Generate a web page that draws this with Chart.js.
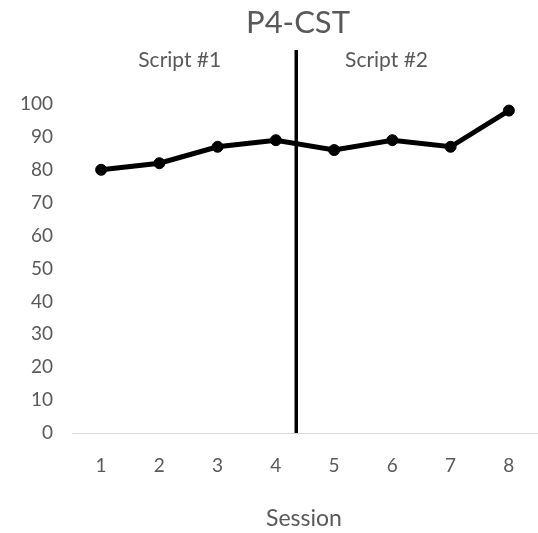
<!DOCTYPE html>
<html>
<head>
<meta charset="utf-8">
<script src="https://cdn.jsdelivr.net/npm/chart.js@4/dist/chart.umd.min.js"></script>
<style>
html,body{margin:0;padding:0;background:#fff;}
#wrap{width:538px;height:533px;position:relative;}
</style>
</head>
<body>
<div id="wrap"><canvas id="c" width="538" height="533"></canvas></div>
<script>
const chartTitle = "P4-CST";
const sessions = ["1","2","3","4","5","6","7","8"];
const scores = [80, 82, 87, 89, 86, 89, 87, 98];
const phaseLabels = ["Script #1", "Script #2"];
const phaseDividerIndex = 3.35; // between session 4 and 5
const yTicks = [0,10,20,30,40,50,60,70,80,90,100];
const xAxisTitle = "Session";

const FONT = "Lato, 'Open Sans', sans-serif";
const GRAY = "#595959";

const overlay = {
  id: 'overlay',
  afterDatasetsDraw(chart) {
    const {ctx, chartArea, scales} = chart;
    const x = scales.x, y = scales.y;
    const xd = x.getPixelForValue(phaseDividerIndex);
    ctx.save();
    ctx.strokeStyle = "#000";
    ctx.lineWidth = 3.5;
    ctx.beginPath();
    ctx.moveTo(xd, chartArea.top - 54);
    ctx.lineTo(xd, y.getPixelForValue(0));
    ctx.stroke();
    ctx.fillStyle = GRAY;
    ctx.textAlign = "center";
    ctx.textBaseline = "middle";
    ctx.font = "21px " + FONT;
    ctx.fillText(phaseLabels[0], x.getPixelForValue(1.35), chartArea.top - 44);
    ctx.fillText(phaseLabels[1], x.getPixelForValue(4.9), chartArea.top - 44);
    ctx.font = "31px " + FONT;
    ctx.fillText(chartTitle, 298, 23);
    ctx.font = "23px " + FONT;
    ctx.fillText(xAxisTitle, 304, 519);
    ctx.restore();
  }
};

new Chart(document.getElementById('c'), {
  type: 'line',
  data: {
    labels: sessions,
    datasets: [{
      data: scores,
      borderColor: '#000',
      backgroundColor: '#000',
      borderWidth: 5,
      pointRadius: 5.5,
      pointHoverRadius: 5.5,
      pointBackgroundColor: '#000',
      pointBorderColor: '#000',
      pointBorderWidth: 1,
      tension: 0,
      clip: false
    }]
  },
  options: {
    responsive: false,
    animation: false,
    devicePixelRatio: 1,
    layout: { autoPadding: false, padding: { top: 104, right: 0, left: 0, bottom: 0 } },
    plugins: { legend: { display: false }, tooltip: { enabled: false }, title: { display: false } },
    scales: {
      x: {
        type: 'category',
        offset: true,
        grid: { display: false, drawTicks: false },
        border: { display: true, color: '#d9d9d9', width: 1 },
        ticks: { color: GRAY, font: { size: 19, family: FONT }, padding: 21, maxRotation: 0 },
        afterFit(s) { s.height = 100; }
      },
      y: {
        min: 0, max: 100,
        afterBuildTicks(s) { s.ticks = yTicks.map(v => ({value: v})); },
        grid: { display: false, drawTicks: false },
        border: { display: false },
        ticks: { color: GRAY, font: { size: 19, family: FONT }, padding: 19 },
        afterFit(s) { s.width = 72; }
      }
    }
  },
  plugins: [overlay]
});
</script>
</body>
</html>
